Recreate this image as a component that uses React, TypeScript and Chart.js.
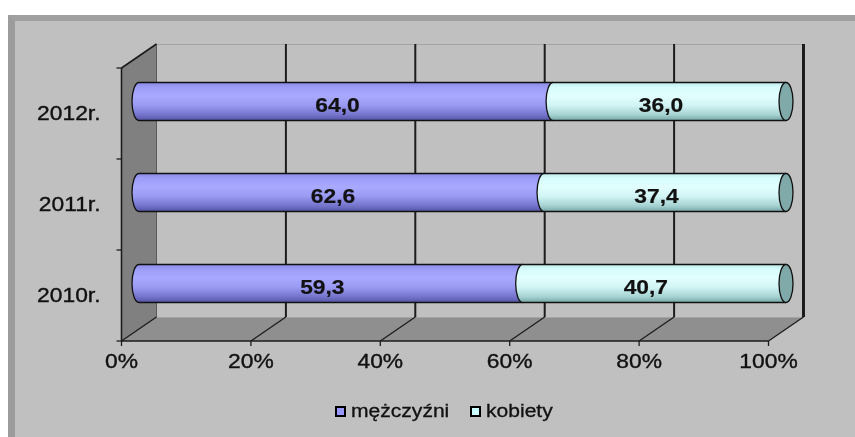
import React, { useEffect, useRef } from "react";
import { Chart, registerables } from "chart.js";

Chart.register(...registerables);

const categories = ["2012r.", "2011r.", "2010r."];
const menValues = [64.0, 62.6, 59.3];
const womenValues = [36.0, 37.4, 40.7];
const seriesNames = ["mężczyźni", "kobiety"];
const xTickValues = [0, 20, 40, 60, 80, 100];

const FONT = '"Liberation Sans", Arial, sans-serif';
const SX = 1.17;
const DX = 17.5;
const DY = 12;

function txt(ctx: CanvasRenderingContext2D, s: string, x: number, y: number, align: CanvasTextAlign, font: string, heavy = 0.35) {
  ctx.save();
  ctx.font = font;
  ctx.textBaseline = "middle";
  ctx.fillStyle = "#111";
  ctx.strokeStyle = "#111";
  ctx.lineWidth = heavy;
  ctx.translate(x, y);
  ctx.scale(SX, 1);
  ctx.textAlign = align;
  ctx.fillText(s, 0, 0);
  if (heavy > 0) ctx.strokeText(s, 0, 0);
  ctx.restore();
}

const gradStops: Record<string, [number, string][]> = {
  men: [[0, "#8a8ae4"], [0.12, "#9c9cf6"], [0.35, "#a9a9ff"], [0.6, "#9a9af2"], [0.85, "#7474cc"], [1, "#5454a4"]],
  women: [[0, "#bfeaea"], [0.12, "#d6fcfc"], [0.35, "#e2ffff"], [0.6, "#d2f4f4"], [0.85, "#a6d2d2"], [1, "#76a6a6"]],
};

const scene3d = {
  id: "scene3d",
  beforeDatasetsDraw(chart: any) {
    const ctx: CanvasRenderingContext2D = chart.ctx;
    const xs = chart.scales.x;
    const ys = chart.scales.y;
    const T = ys.top, B = ys.bottom;
    const fx = (v: number) => xs.getPixelForValue(v) - DX;
    const bx = (v: number) => xs.getPixelForValue(v) + DX;
    const fT = T + DY, fB = B + DY, bT = T - DY, bB = B - DY;
    ctx.save();
    // side wall
    ctx.fillStyle = "#808080";
    ctx.beginPath();
    ctx.moveTo(fx(0), fT); ctx.lineTo(bx(0), bT); ctx.lineTo(bx(0), bB); ctx.lineTo(fx(0), fB); ctx.closePath();
    ctx.fill();
    // floor
    ctx.fillStyle = "#8f8f8f";
    ctx.beginPath();
    ctx.moveTo(fx(0), fB); ctx.lineTo(bx(0), bB); ctx.lineTo(bx(100), bB); ctx.lineTo(fx(100), fB); ctx.closePath();
    ctx.fill();
    // back wall light edges
    ctx.strokeStyle = "#a4a4a4";
    ctx.lineWidth = 1;
    ctx.beginPath(); ctx.moveTo(bx(0), bT + 0.5); ctx.lineTo(bx(100), bT + 0.5); ctx.stroke();
    ctx.beginPath(); ctx.moveTo(bx(0), bB + 0.5); ctx.lineTo(bx(100), bB + 0.5); ctx.stroke();
    // back gridlines
    ctx.strokeStyle = "#1c1c1c";
    for (const v of xTickValues) {
      if (v === 0) continue;
      ctx.lineWidth = v === 100 ? 3 : 2;
      ctx.beginPath(); ctx.moveTo(bx(v), bT); ctx.lineTo(bx(v), bB); ctx.stroke();
    }
    ctx.strokeStyle = "#5a5a5a";
    ctx.lineWidth = 1;
    ctx.beginPath(); ctx.moveTo(bx(0), bT); ctx.lineTo(bx(0), bB); ctx.stroke();
    // floor diagonals
    ctx.strokeStyle = "#1c1c1c";
    ctx.lineWidth = 1.3;
    for (const v of xTickValues) {
      ctx.beginPath(); ctx.moveTo(fx(v), fB); ctx.lineTo(bx(v), bB); ctx.stroke();
    }
    // front edges
    ctx.lineWidth = 1.6;
    ctx.beginPath(); ctx.moveTo(fx(0), fB); ctx.lineTo(fx(100), fB); ctx.stroke();
    ctx.beginPath(); ctx.moveTo(fx(0), fT); ctx.lineTo(fx(0), fB); ctx.stroke();
    ctx.beginPath(); ctx.moveTo(fx(0), fT); ctx.lineTo(bx(0), bT); ctx.stroke();
    // tick marks
    ctx.lineWidth = 1.3;
    for (const v of xTickValues) {
      ctx.beginPath(); ctx.moveTo(fx(v), fB); ctx.lineTo(fx(v), fB + 5); ctx.stroke();
    }
    const step = (B - T) / categories.length;
    for (let k = 0; k <= categories.length; k++) {
      const y = fT + k * step;
      ctx.beginPath(); ctx.moveTo(fx(0) - 5, y); ctx.lineTo(fx(0), y); ctx.stroke();
    }
    // tick labels
    const f = "19.5px " + FONT;
    for (const v of xTickValues) {
      txt(ctx, v + "%", fx(v), fB + 22, "center", f);
    }
    categories.forEach((c, i) => {
      txt(ctx, c, fx(0) - 21, ys.getPixelForValue(i) + DY + 1.5, "right", f);
    });
    ctx.restore();
  },
  beforeDatasetDraw() {
    return false;
  },
  afterDatasetsDraw(chart: any) {
    const ctx: CanvasRenderingContext2D = chart.ctx;
    const metas = chart.data.datasets.map((_: any, d: number) => chart.getDatasetMeta(d));
    const keys = ["men", "women"];
    categories.forEach((_, i) => {
      let last: any = null;
      metas.forEach((meta: any, d: number) => {
        const el = meta.data[i];
        const xs = el.base, xe = el.x, yc = el.y, h = el.height;
        const top = yc - h / 2, bot = yc + h / 2;
        const rx = 7, ry = h / 2;
        const g = ctx.createLinearGradient(0, top, 0, bot);
        for (const [o, c] of gradStops[keys[d]]) g.addColorStop(o, c);
        ctx.save();
        ctx.beginPath();
        ctx.moveTo(xe, top);
        ctx.lineTo(xs, top);
        ctx.ellipse(xs, yc, rx, ry, 0, -Math.PI / 2, Math.PI / 2, true);
        ctx.lineTo(xe, bot);
        ctx.closePath();
        ctx.fillStyle = g;
        ctx.fill();
        ctx.strokeStyle = "#111";
        ctx.lineWidth = 1.3;
        ctx.beginPath();
        ctx.moveTo(xe, top);
        ctx.lineTo(xs, top);
        ctx.ellipse(xs, yc, rx, ry, 0, -Math.PI / 2, Math.PI / 2, true);
        ctx.lineTo(xe, bot);
        ctx.stroke();
        ctx.restore();
        last = el;
      });
      if (last) {
        ctx.save();
        ctx.beginPath();
        ctx.ellipse(last.x, last.y, 7, last.height / 2, 0, 0, Math.PI * 2);
        ctx.fillStyle = "#80a9a9";
        ctx.fill();
        ctx.strokeStyle = "#111";
        ctx.lineWidth = 1.3;
        ctx.stroke();
        ctx.restore();
      }
      metas.forEach((meta: any, d: number) => {
        const el = meta.data[i];
        const v = chart.data.datasets[d].data[i] as number;
        const cx = (el.base + el.x) / 2 - 8.5;
        txt(ctx, v.toFixed(1).replace(".", ","), cx, el.y + 5, "center", "bold 19.5px " + FONT, 0.2);
      });
    });
    // legend
    const ly = 412;
    const items = [
      { x: 335, color: "#9999ff", label: seriesNames[0] },
      { x: 470, color: "#ccffff", label: seriesNames[1] },
    ];
    ctx.save();
    for (const it of items) {
      ctx.fillStyle = it.color;
      ctx.fillRect(it.x + 1, ly - 5, 9, 9);
      ctx.strokeStyle = "#000";
      ctx.lineWidth = 2;
      ctx.strokeRect(it.x + 1, ly - 5, 9, 9);
      txt(ctx, it.label, it.x + 16, ly, "left", "18px " + FONT, 0.3);
    }
    ctx.restore();
  },
};

export default function App() {
  const ref = useRef<HTMLCanvasElement | null>(null);
  useEffect(() => {
    if (!ref.current) return;
    const chart = new Chart(ref.current, {
      type: "bar",
      data: {
        labels: categories,
        datasets: [
          { label: seriesNames[0], data: menValues, backgroundColor: "#9999ff", barThickness: 38 },
          { label: seriesNames[1], data: womenValues, backgroundColor: "#ccffff", barThickness: 38 },
        ],
      },
      options: {
        indexAxis: "y",
        responsive: false,
        maintainAspectRatio: false,
        animation: false,
        layout: { padding: { left: 139, right: 69, top: 56, bottom: 108 } },
        scales: {
          x: { type: "linear", stacked: true, min: 0, max: 100, display: false },
          y: { type: "category", stacked: true, display: false },
        },
        plugins: { legend: { display: false }, tooltip: { enabled: false } },
      },
      plugins: [scene3d],
    } as any);
    return () => chart.destroy();
  }, []);
  return (
    <>
      <div
        style={{
          position: "fixed",
          left: 8,
          top: 15,
          width: 847,
          height: 422,
          boxSizing: "border-box",
          background: "#c0c0c0",
          borderTop: "6px solid #a0a0a0",
          borderLeft: "7px solid #9c9c9c",
        }}
      />
      <canvas
        ref={ref}
        width={855}
        height={437}
        style={{ position: "fixed", left: 0, top: 0, width: 855, height: 437 }}
      />
    </>
  );
}
